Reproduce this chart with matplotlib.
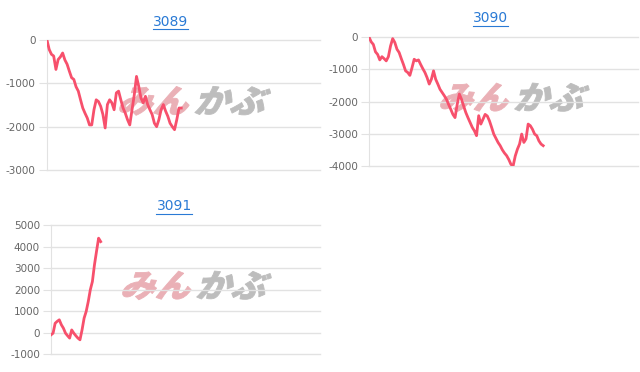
import matplotlib.pyplot as plt
from matplotlib.lines import Line2D
from matplotlib.patches import PathPatch
from matplotlib.textpath import TextPath
from matplotlib.font_manager import FontProperties
from matplotlib.transforms import Affine2D
import numpy as np

plt.rcParams['font.family'] = ['DejaVu Sans']
plt.rcParams['axes.unicode_minus'] = False

# cumulative profit series
codes = ['3089', '3090', '3091']

pl_3089 = [0, -220, -330, -370, -680, -450, -390, -300, -460, -560, -720, -870, -910,
           -1080, -1180, -1380, -1570, -1690, -1800, -1960, -1960, -1610, -1380, -1420,
           -1530, -1720, -2030, -1490, -1380, -1450, -1610, -1220, -1180, -1380, -1570,
           -1690, -1840, -1960, -1610, -1270, -840, -1070, -1340, -1450, -1300, -1490,
           -1610, -1720, -1920, -2000, -1840, -1610, -1490, -1640, -1760, -1920, -2000,
           -2070, -1840, -1570, -1570]

pl_3090 = [0, -150, -230, -460, -540, -710, -610, -670, -740, -610, -280, -50, -170,
           -380, -480, -670, -850, -1050, -1100, -1190, -950, -690, -740, -710, -850,
           -980, -1100, -1260, -1460, -1310, -1050, -1310, -1460, -1620, -1720, -1820,
           -1930, -2090, -2240, -2400, -2500, -2090, -1770, -1930, -2140, -2340, -2500,
           -2650, -2800, -2910, -3060, -2440, -2700, -2550, -2400, -2450, -2600, -2800,
           -3010, -3140, -3270, -3370, -3500, -3600, -3680, -3800, -3950, -4000, -3690,
           -3480, -3320, -3010, -3270, -3160, -2700, -2750, -2860, -3010, -3060, -3220,
           -3320, -3370]

pl_3091 = [-110, -30, 430, 520, 590, 360, 200, -30, -150, -260, 120, -30, -150, -260,
           -340, 120, 670, 980, 1440, 1990, 2370, 3150, 3780, 4390, 4230]

series = [pl_3089, pl_3090, pl_3091]
x_max = [122, 125, 130]
ylims = [(-3000, 0), (-4000, 0), (-1000, 5000)]

# axes boxes [left, bottom, width, height] in figure fraction
boxes = [[0.0734, 0.543, 0.4266, 0.3495],
         [0.5766, 0.5538, 0.4200, 0.3467],
         [0.0797, 0.0484, 0.4203, 0.3466]]

line_color = '#f7506c'
grid_color = '#e2e2e2'
label_color = '#666666'


def watermark(ax):
    fp = FontProperties(family='Noto Sans CJK JP', weight='heavy')
    parts = [('みん', '#eab0b6', 0.255), ('かぶ', '#bdbdbd', 0.535)]
    for txt, col, x0 in parts:
        path = TextPath((0, 0), txt, size=1, prop=fp)
        tr = Affine2D().skew_deg(18, 0).scale(0.13, 0.25).translate(x0, 0.44)
        patch = PathPatch(path, transform=tr + ax.transAxes, facecolor=col,
                          edgecolor=col, lw=0.6, zorder=1)
        ax.add_patch(patch)


fig = plt.figure(figsize=(6.4, 3.72), dpi=100)
for code, vals, xm, yl, box in zip(codes, series, x_max, ylims, boxes):
    ax = fig.add_axes(box)
    x = np.arange(len(vals))
    ax.plot(x, vals, color=line_color, lw=2.0, zorder=3, solid_joinstyle='round')
    ax.set_xlim(0, xm)
    ax.set_ylim(*yl)
    ax.set_yticks(np.arange(yl[0], yl[1] + 1, 1000))
    ax.set_xticks([])
    ax.grid(axis='y', color=grid_color, lw=1)
    for gl in ax.get_ygridlines():
        gl.set_clip_on(False)
    for s in ['top', 'right', 'bottom']:
        ax.spines[s].set_visible(False)
    ax.spines['left'].set_color(grid_color)
    ax.tick_params(axis='y', length=6, color=grid_color, pad=2,
                   labelsize=7.5, labelcolor=label_color)
    watermark(ax)

# underlined blue titles
title_pos = [(0.266, 0.942), (0.767, 0.951), (0.272, 0.445)]
fig.canvas.draw()
renderer = fig.canvas.get_renderer()
for code, (tx, ty) in zip(codes, title_pos):
    t = fig.text(tx, ty, code, color='#2a7ad5', fontsize=10, ha='center', va='center')
    bb = t.get_window_extent(renderer).transformed(fig.transFigure.inverted())
    fig.add_artist(Line2D([bb.x0, bb.x1], [bb.y0 - 0.002, bb.y0 - 0.002],
                          color='#2a7ad5', lw=0.8, transform=fig.transFigure))

fig.savefig('out.png', dpi=100)
